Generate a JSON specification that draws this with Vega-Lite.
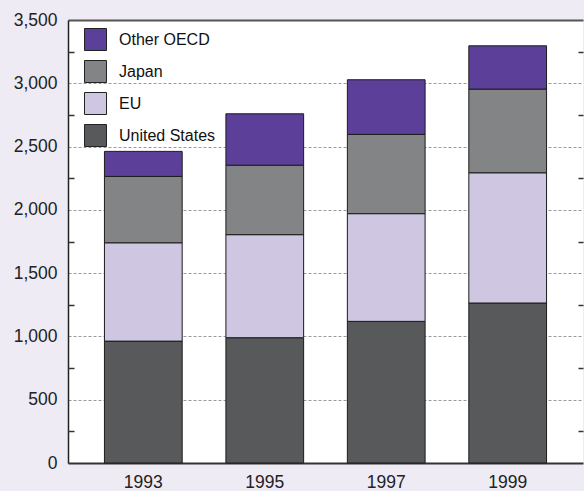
{
  "$schema": "https://vega.github.io/schema/vega-lite/v6.json",
  "width": 515,
  "height": 443,
  "autosize": "none",
  "padding": {"left": 68, "top": 20, "right": 1, "bottom": 28},
  "background": "#EEEBF4",
  "config": {"view": {"fill": "white", "stroke": null}, "font": "Liberation Sans"},
  "data": {"values": [
    {"year": "1993", "region": "United States", "rank": 1, "value": 963},
    {"year": "1993", "region": "EU", "rank": 2, "value": 777},
    {"year": "1993", "region": "Japan", "rank": 3, "value": 524},
    {"year": "1993", "region": "Other OECD", "rank": 4, "value": 198},
    {"year": "1995", "region": "United States", "rank": 1, "value": 990},
    {"year": "1995", "region": "EU", "rank": 2, "value": 814},
    {"year": "1995", "region": "Japan", "rank": 3, "value": 549},
    {"year": "1995", "region": "Other OECD", "rank": 4, "value": 406},
    {"year": "1997", "region": "United States", "rank": 1, "value": 1119},
    {"year": "1997", "region": "EU", "rank": 2, "value": 851},
    {"year": "1997", "region": "Japan", "rank": 3, "value": 626},
    {"year": "1997", "region": "Other OECD", "rank": 4, "value": 432},
    {"year": "1999", "region": "United States", "rank": 1, "value": 1264},
    {"year": "1999", "region": "EU", "rank": 2, "value": 1029},
    {"year": "1999", "region": "Japan", "rank": 3, "value": 661},
    {"year": "1999", "region": "Other OECD", "rank": 4, "value": 342}
  ]},
  "layer": [
    {
      "mark": {"type": "bar", "stroke": "#1c1c1c", "strokeWidth": 1},
      "encoding": {
        "x": {"field": "year", "type": "ordinal",
          "scale": {"paddingInner": 0.36, "paddingOuter": 0.3},
          "axis": {"title": null, "orient": "bottom", "labelAngle": 0, "ticks": false, "domainColor": "#333", "domainWidth": 2, "labelFontSize": 17.5, "labelColor": "#222", "labelPadding": 10, "grid": false}},
        "y": {"field": "value", "type": "quantitative", "stack": "zero",
          "scale": {"domain": [0, 3500], "nice": false},
          "axis": {"title": null, "values": [0, 500, 1000, 1500, 2000, 2500, 3000, 3500], "format": ",.0f", "ticks": false, "grid": true, "gridDash": [3, 2], "gridColor": "#9a9a9a", "gridWidth": 1, "labelFontSize": 17.5, "labelColor": "#222", "labelPadding": 11, "labelFlush": false, "domainColor": "#222", "domainWidth": 1.5}},
        "color": {"field": "region", "type": "nominal",
          "scale": {"domain": ["United States", "EU", "Japan", "Other OECD"], "range": ["#58595B", "#CFC6E1", "#838485", "#5B3F99"]},
          "legend": {"orient": "none", "legendX": 16, "legendY": 8, "title": null, "padding": 0,
            "values": ["Other OECD", "Japan", "EU", "United States"],
            "symbolType": "square", "symbolSize": 484, "symbolStrokeColor": "#222", "symbolStrokeWidth": 1, "symbolOpacity": 1,
            "labelFontSize": 16, "labelColor": "#111", "labelOffset": 12, "rowPadding": 5}},
        "order": {"field": "rank", "type": "quantitative", "sort": "ascending"}
      }
    },
    {
      "mark": {"type": "bar", "opacity": 0},
      "encoding": {
        "x": {"field": "year", "type": "ordinal",
          "axis": {"orient": "top", "title": null, "labels": false, "ticks": false, "grid": false, "domainColor": "#555", "domainWidth": 2}},
        "y": {"field": "value", "type": "quantitative",
          "axis": {"orient": "right", "title": null, "values": [250, 750, 1250, 1750, 2250, 2750, 3250], "labels": false, "grid": false, "domain": false, "tickSize": -5, "tickColor": "#333", "tickWidth": 1.5}}
      }
    },
    {
      "mark": {"type": "bar", "opacity": 0},
      "encoding": {
        "x": {"field": "year", "type": "ordinal", "axis": null},
        "y": {"field": "value", "type": "quantitative",
          "axis": {"orient": "left", "title": null, "values": [250, 750, 1250, 1750, 2250, 2750, 3250], "labels": false, "grid": false, "domain": false, "tickSize": -6, "tickColor": "#333", "tickWidth": 1.5}}
      }
    }
  ],
  "resolve": {"axis": {"x": "independent", "y": "independent"}}
}
